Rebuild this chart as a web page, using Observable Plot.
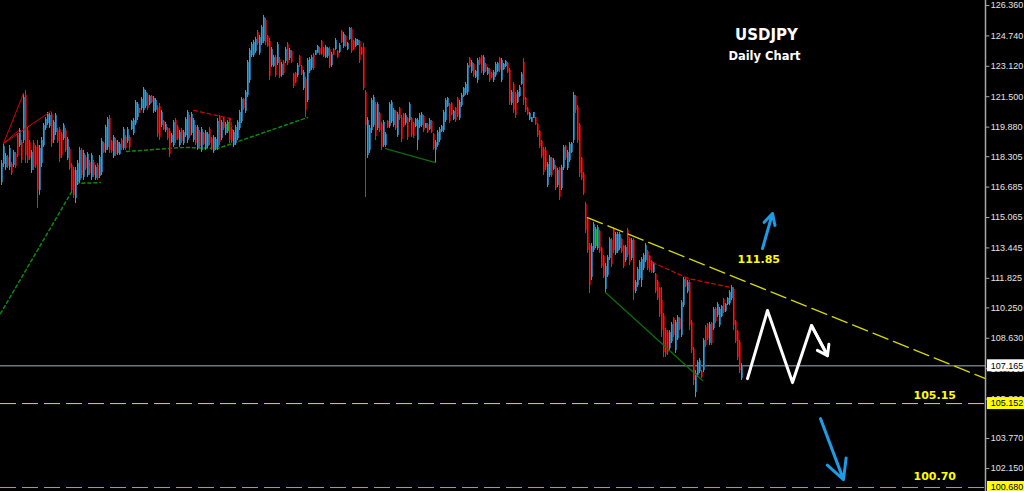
<!DOCTYPE html>
<html><head><meta charset="utf-8">
<script src="https://cdn.jsdelivr.net/npm/d3@7"></script>
<script src="https://cdn.jsdelivr.net/npm/@observablehq/plot@0.6"></script>
<style>html,body{margin:0;padding:0;background:#000;overflow:hidden}</style>
</head><body><div id="chart"></div>
<script>
// Daily USDJPY candles [open, high, low, close]
const barsA = [
[116.93,118.10,116.77,117.94],[117.89,119.01,117.73,118.85],[117.73,118.48,117.57,118.32],[118.26,118.37,117.68,117.78],
[117.73,118.90,117.57,118.74],[117.89,117.99,117.30,117.41],[117.84,118.64,117.73,118.53],[118.42,118.53,117.68,117.78],
[119.43,119.54,118.26,118.37],[118.90,119.81,118.80,119.70],[119.06,119.17,117.94,118.10],[119.17,121.67,119.01,121.46],
[121.57,121.83,117.94,118.37],[119.70,119.86,117.94,118.10],[119.06,119.17,118.10,118.21],[117.57,118.64,117.41,118.53],
[119.01,119.17,117.57,117.73],[118.80,118.90,117.68,117.84],[118.90,119.17,115.54,116.50],[116.50,118.90,116.24,118.74],
[117.94,119.33,117.73,119.17],[118.90,120.07,118.80,119.97],[119.81,120.39,119.70,120.29],[120.07,120.66,119.97,120.55],
[119.91,120.61,119.81,120.50],[120.55,120.66,118.80,119.01],[119.17,120.23,119.01,120.13],[119.59,120.61,119.43,120.50],
[119.70,119.81,119.01,119.12],[119.75,119.86,117.99,118.21],[119.49,119.59,118.21,118.37],[119.27,120.07,119.17,119.97],
[119.70,119.81,118.53,118.64],[118.21,119.33,118.10,119.22],[118.69,118.80,117.57,117.68],[117.84,117.94,116.34,116.50],
[117.57,117.73,116.08,116.24],[116.08,117.73,115.81,117.57],[116.93,118.10,116.77,117.94],[117.04,118.80,116.88,118.64],
[118.64,118.74,117.14,117.30],[117.20,118.64,117.04,118.48],[118.26,118.37,117.57,117.68],[117.30,118.53,117.20,118.42],
[117.99,118.10,117.30,117.41],[117.20,118.48,117.04,118.37],[117.99,118.10,117.20,117.30],[117.14,117.84,117.04,117.73],
[117.84,117.94,117.04,117.14],[117.25,118.37,117.14,118.26],[117.46,119.27,117.30,119.12],[119.01,119.06,118.48,118.53],
[118.64,119.97,118.48,119.86],[118.80,120.39,118.64,120.29],[120.34,120.50,118.48,118.64],[119.12,119.17,118.48,118.58],
[118.32,119.43,118.21,119.33],[119.17,119.27,118.32,118.42],[118.48,119.17,118.37,119.06],[118.42,119.06,118.37,118.96],
[119.17,119.27,118.64,118.74],[118.74,119.86,118.64,119.75],[119.33,119.43,118.64,118.74],[119.12,119.86,119.01,119.75],
[119.33,119.43,118.64,118.80],[119.75,120.23,119.70,120.18],[119.54,120.34,119.43,120.23],[120.07,121.30,119.97,121.19],
[120.39,121.19,120.23,121.09],[120.87,120.87,120.61,120.61],[120.87,121.46,120.77,121.35],[120.77,121.99,120.61,121.89],
[120.98,121.83,120.87,121.73],[121.57,121.67,120.77,120.87],[121.09,121.57,121.03,121.51],[121.51,121.57,121.14,121.19],
[120.71,121.51,120.61,121.41],[120.77,121.41,120.66,121.30],[120.93,121.03,119.33,119.49],[120.98,121.14,119.17,119.33],
[119.97,120.77,119.86,120.66],[120.18,120.23,119.70,119.75],[119.70,120.13,119.59,120.02],[119.81,119.86,119.17,119.27],
[119.65,119.81,118.26,118.42],[119.06,119.54,119.01,119.43],[118.90,120.23,118.80,120.13],[120.23,120.34,119.01,119.17],
[119.86,119.97,119.17,119.27],[118.90,119.70,118.80,119.59],[119.70,119.81,119.01,119.12],[119.01,119.70,118.90,119.59],
[119.43,120.39,119.33,120.29]
];
const barsB = [
[119.17,120.77,119.01,120.66],[120.39,120.50,119.27,119.38],[119.54,120.66,119.43,120.55],[119.17,120.34,119.06,120.23],
[119.86,119.97,118.90,119.01],[118.74,119.97,118.64,119.86],[119.59,119.70,118.74,118.85],[118.64,119.86,118.53,119.75],
[119.54,119.59,118.90,118.96],[118.74,119.70,118.64,119.59],[118.85,119.59,118.74,119.49],[119.75,119.86,118.90,119.01],
[119.27,119.33,118.64,118.69],[118.58,119.43,118.48,119.33],[118.74,119.33,118.64,119.22],[118.80,120.34,118.64,120.18],
[120.39,120.50,118.90,119.06],[119.27,120.23,119.17,120.13],[120.34,120.39,119.70,119.81],[119.54,120.13,119.43,120.02],
[119.65,120.23,119.54,120.13],[120.23,120.34,119.01,119.17],[119.75,119.86,119.01,119.12],[118.90,119.70,118.80,119.59],
[119.01,119.97,118.90,119.86],[119.27,120.23,119.17,120.13],[119.81,120.77,119.70,120.66],[120.18,121.46,120.07,121.35],
[121.35,121.41,120.77,120.87],[120.71,121.83,120.61,121.73],[121.57,123.43,121.46,123.33],[122.37,124.07,122.21,123.96],
[123.70,124.39,123.59,124.28],[123.70,124.50,123.59,124.39],[123.91,124.66,123.81,124.55],[124.92,125.03,124.23,124.34],
[123.81,124.76,123.70,124.66],[124.34,125.30,124.23,125.19],[124.44,125.83,124.34,125.72],[125.56,125.67,124.23,124.39],
[124.71,124.76,124.13,124.18],[124.44,124.60,122.37,122.58],[123.16,124.13,123.06,124.02],[123.11,123.70,123.06,123.59],
[123.59,123.70,122.53,122.63],[123.27,124.39,123.16,124.28],[123.49,123.59,122.47,122.58],[122.63,123.33,122.53,123.22],
[123.33,123.43,122.63,122.74],[123.38,124.13,123.27,124.02],[124.28,124.39,123.16,123.27],[123.54,124.07,123.43,123.96],
[123.91,123.96,123.27,123.33],[122.69,122.74,121.94,122.05],[122.74,122.79,122.21,122.26],[122.63,123.27,122.53,123.16],
[123.65,123.70,123.06,123.11],[123.11,123.16,122.63,122.69],[121.94,122.90,121.83,122.79],[122.42,122.53,120.39,120.77],
[121.30,123.54,121.19,123.43],[122.85,123.59,122.74,123.49],[123.01,123.70,122.90,123.59],[123.70,123.81,122.90,123.01],
[123.70,123.96,123.70,123.96],[123.81,124.23,123.81,124.18],[124.07,124.13,123.70,123.75],[124.44,124.50,123.70,123.75],
[124.07,124.13,123.59,123.65],[123.59,124.23,123.54,124.13],[123.65,124.13,123.54,124.07],[124.02,124.13,123.01,123.11],
[123.16,123.86,123.06,123.75],[124.02,124.07,123.70,123.70],[124.02,124.60,123.96,124.50],[123.91,123.96,123.54,123.59],
[123.86,124.34,123.81,124.23],[124.98,125.03,124.34,124.39],[124.18,124.92,124.07,124.82],[124.71,124.76,124.13,124.18],
[124.02,124.39,123.96,124.34],[124.55,125.19,124.50,125.14],[125.08,125.19,123.81,123.91],[124.44,124.50,123.96,124.02],
[124.18,124.60,124.13,124.55],[124.23,124.55,124.23,124.50],[124.44,124.50,123.27,123.43],[124.07,124.13,123.70,123.75],
[124.13,124.34,121.83,121.94],[121.73,121.83,116.13,119.97],[118.37,120.39,118.21,120.23],[118.64,119.97,118.48,119.81],
[119.70,121.41,119.54,121.30]
];
const barsC = [
[119.97,121.57,119.86,121.46],[121.09,121.19,119.17,119.38],[119.81,121.19,119.70,121.09],[120.61,120.66,119.59,119.70],
[120.02,120.13,118.64,118.80],[118.90,120.23,118.80,120.13],[118.90,119.59,118.80,119.49],[120.18,120.23,119.81,119.86],
[119.91,121.19,119.81,121.09],[120.18,121.30,120.07,121.19],[119.97,120.87,119.86,120.77],[120.71,120.77,119.70,119.81],
[119.43,120.66,119.33,120.55],[120.87,120.93,120.23,120.34],[120.39,120.50,119.06,119.22],[120.55,120.61,119.86,119.91],
[120.07,120.61,119.97,120.50],[120.34,120.39,119.17,119.33],[120.23,121.19,120.13,121.09],[120.34,120.39,119.33,119.43],
[120.07,120.13,119.27,119.38],[119.91,120.34,119.86,120.29],[119.17,120.34,118.64,120.23],[119.91,120.61,119.81,120.50],
[119.97,120.66,119.86,120.55],[120.45,120.50,119.59,119.70],[119.81,120.07,119.81,120.07],[120.02,120.07,119.54,119.59],
[119.75,120.34,119.70,120.23],[120.18,120.23,119.54,119.59],[119.49,119.54,118.64,118.74],[118.64,119.17,117.99,119.06],
[118.90,119.70,118.80,119.59],[119.17,119.86,119.06,119.75],[119.65,119.97,119.59,119.91],[119.70,120.77,119.59,120.66],
[120.23,121.41,120.13,121.30],[120.98,121.46,120.93,121.41],[121.09,121.14,120.07,120.18],[121.14,121.19,120.50,120.55],
[120.29,120.77,120.23,120.71],[120.87,120.93,120.13,120.23],[121.41,121.46,120.39,120.50],[120.34,121.30,120.23,121.19],
[121.03,121.67,120.93,121.57],[121.51,121.99,121.46,121.94],[121.67,122.26,121.57,122.15],[121.73,123.27,121.57,123.16],
[123.54,123.59,123.01,123.06],[122.85,123.43,122.74,123.33],[123.22,123.27,122.53,122.63],[122.53,122.90,122.47,122.85],
[122.37,123.54,122.21,123.43],[123.54,123.59,123.16,123.22],[123.65,123.70,122.74,122.85],[122.74,123.70,122.63,123.59],
[123.22,123.27,122.79,122.85],[122.69,123.06,122.63,123.01],[122.95,123.01,122.26,122.37],[122.74,122.79,122.47,122.53],
[122.37,122.90,122.26,122.79],[122.63,123.33,122.53,123.22],[122.85,123.33,122.79,123.27],[123.54,123.59,122.79,122.90],
[122.37,123.54,122.26,123.43],[122.95,123.27,122.90,123.22],[123.11,123.43,123.06,123.38],[123.27,123.33,122.74,122.79],
[122.90,123.01,121.03,121.19],[121.14,121.83,121.03,121.73],[122.15,122.26,120.61,120.77],[121.62,121.73,120.34,120.50],
[121.19,121.83,121.14,121.73],[121.51,122.10,121.46,121.99],[122.15,122.79,122.10,122.69],[123.33,123.54,121.03,121.30],
[121.41,121.46,120.66,120.77],[120.87,120.93,120.50,120.55],[120.29,120.66,120.23,120.61],[120.13,120.39,120.13,120.39],
[120.34,120.66,120.34,120.66],[120.39,120.39,119.97,120.02],[120.02,120.07,119.33,119.43],[119.65,119.70,118.74,118.85],
[119.12,119.17,118.21,118.32],[118.69,118.80,117.30,117.46],[118.64,118.80,117.57,117.73],[116.77,117.99,116.66,117.89],
[117.30,118.37,117.20,118.26],[118.21,118.26,117.20,117.30],[117.62,118.21,117.57,118.10],[117.78,117.84,116.50,116.61],
[116.77,117.68,116.66,117.57],[117.68,117.73,115.97,116.13],[116.61,117.84,116.50,117.73],[117.68,118.90,117.57,118.80],
[118.85,118.90,118.10,118.21],[117.68,118.64,117.57,118.53],[118.10,119.06,117.99,118.96],[118.53,119.06,118.48,119.01]
];
const barsD = [
[119.17,121.73,119.01,121.57],[121.51,121.57,120.61,120.77],[120.93,121.03,119.01,119.17],[119.97,120.07,117.20,117.41],
[118.21,118.26,117.04,117.14],[117.36,117.46,116.24,116.34],[115.76,115.86,114.21,114.37],[114.96,115.06,113.15,113.31],
[113.57,113.68,111.01,111.44],[111.87,113.68,111.71,113.52],[113.31,114.80,113.20,114.69],[113.52,114.53,113.41,114.43],
[113.41,114.64,113.31,114.53],[114.32,114.37,113.15,113.25],[113.41,113.47,112.35,112.45],[112.99,113.04,111.81,111.92],
[111.23,112.61,111.07,112.45],[111.97,113.04,111.87,112.93],[112.88,113.99,112.77,113.89],[113.84,113.94,112.40,112.56],
[114.43,114.53,113.15,113.31],[113.15,114.27,113.04,114.16],[113.25,114.27,113.15,114.16],[113.41,114.27,113.31,114.16],
[113.89,113.94,113.15,113.25],[113.52,113.57,112.35,112.45],[112.77,113.57,112.67,113.47],[114.37,114.48,112.93,113.04],
[113.94,113.99,112.51,112.67],[112.88,113.94,112.77,113.84],[113.84,113.94,110.64,111.17],[111.12,111.71,111.01,111.60],
[111.44,112.40,111.33,112.29],[111.81,112.77,111.71,112.67],[111.71,112.93,111.33,112.83],[112.35,113.15,112.24,113.04],
[112.77,113.68,112.67,113.57],[113.25,113.31,112.24,112.35],[112.99,113.04,112.13,112.24],[112.72,112.77,112.08,112.13],
[112.13,112.67,112.08,112.61],[112.03,112.08,111.01,111.12],[111.65,111.71,110.64,110.75],[111.28,111.33,109.74,109.89],
[110.64,111.33,108.67,109.04],[109.84,109.95,107.60,107.87],[109.04,109.15,107.60,107.76],[108.93,109.04,107.71,107.87],
[108.08,109.04,107.98,108.93],[108.45,109.47,108.35,109.36],[109.68,109.73,108.67,108.78],[107.98,109.58,107.82,109.47],
[108.61,109.84,108.51,109.73],[109.68,109.73,109.04,109.10],[108.78,110.64,108.67,110.53],[110.37,111.87,110.27,111.76],
[111.81,111.87,111.33,111.39],[111.12,111.71,111.01,111.60],[111.60,111.71,109.04,109.31],[109.47,109.58,107.82,107.98],
[108.03,108.14,106.11,106.38],[105.74,106.91,105.47,106.75],[106.64,107.44,106.54,107.34],[106.85,107.55,106.75,107.44],
[106.85,106.91,106.48,106.54],[106.91,108.61,106.80,108.51],[109.20,109.31,108.14,108.24],[109.36,109.42,108.51,108.61],
[108.35,109.47,108.24,109.36],[109.42,109.47,108.24,108.35],[109.15,110.27,109.04,110.16],[110.21,110.27,109.42,109.52],
[109.84,110.53,109.73,110.43],[109.31,110.27,109.20,110.16],[109.79,110.37,109.73,110.32],[110.69,110.75,109.95,110.00],
[110.05,110.48,110.00,110.43],[110.43,110.80,110.37,110.75],[110.48,111.17,110.37,111.07],[110.75,111.44,110.64,111.33],
[111.23,111.33,109.04,109.31],[109.52,109.58,108.35,108.45],[108.99,109.04,107.44,107.60],[108.40,108.51,106.75,106.91],
[106.48,107.28,106.38,107.165]
];
const greenBars = [113, 297];

// Price axis
const tickValues = [126.36,124.74,123.12,121.50,119.88,118.305,116.685,115.065,113.445,111.825,110.25,108.63,107.01,105.39,103.29,101.69];
const tickLabels = ["126.360","124.740","123.120","121.500","119.880","118.305","116.685","115.065","113.445","111.825","110.250","108.630","107.010","105.390","103.770","102.150"];
const priceTags = [
  {v:107.165, label:"107.165", fill:"#ffffff"},
  {v:105.152, label:"105.152", fill:"#ffff00"},
  {v:100.680, label:"100.680", fill:"#ffff00"}
];

// Drawn objects (bar index, price)
const redFan = [
  [{i:1,p:119.01},{i:11,p:121.67}],
  [{i:1,p:119.01},{i:24.5,p:120.71}],
  [{i:1,p:119.01},{i:8.5,p:119.70}]
];
const greenDotLeft = [{i:-0.5,p:109.95},{i:37.5,p:116.88},{i:49.5,p:116.93}];
const greenDotMid = [{i:62.5,p:118.58},{i:91,p:118.80},{i:108,p:118.74},{i:153,p:120.39}];
const redDashTop = [{i:96,p:120.77},{i:114.5,p:120.34},{i:115.5,p:119.70}];
const greenLineMid = [{i:192,p:118.74},{i:217,p:117.99}];
const yellowTrend = [{i:293,p:115.06},{i:492,p:106.48}];
const redDashLow = [{i:325.5,p:112.67},{i:343.5,p:111.81},{i:365,p:111.33}];
const greenLineLow = [{i:302,p:111.07},{i:350.5,p:106.38}];
const zigzag = [{i:373,p:106.48},{i:383,p:110.11},{i:395.5,p:106.27},{i:405,p:109.31},{i:413,p:107.71}];
const blueArrows = [
  {x1:380.5,y1:113.41,x2:385.5,y2:115.28},
  {x1:409.5,y1:104.35,x2:421,y2:101.10}
];
const levelLabels = [
  {i:368, p:112.83, t:"111.85"},
  {i:456, p:105.58, t:"105.15"},
  {i:456, p:101.26, t:"100.70"}
];
const titleLines = [
  {i:382.5, p:124.76, t:"USDJPY", size:15},
  {i:381.5, p:123.65, t:"Daily Chart", size:11.5}
];

const bars = [...barsA, ...barsB, ...barsC, ...barsD].map(([o,h,l,c], i) => ({i, o, h, l, c, up: c >= o, green: greenBars.includes(i)}));
const wickColor = d => d.green ? "#10d010" : d.up ? "#1ea6ea" : "#ff1414";
const bodyColor = d => d.green ? "#00a800" : d.up ? "#1b6e9c" : "#a00000";

const lineOf = (pts, opts) => Plot.line(pts, {x:"i", y:"p", ...opts});
const axisFont = "'Liberation Sans', Arial, sans-serif";

const chart = Plot.plot({
  width: 1024, height: 491, margin: 0,
  x: {domain: [-0.5, 492], range: [0, 985], axis: null},
  y: {domain: [100.468, 126.626], range: [491, 0], axis: null},
  style: {background: "#000", overflow: "visible"},
  marks: [
    lineOf(greenDotLeft, {stroke:"#0a8a0a", strokeWidth:1.5, strokeDasharray:"3,3"}),
    lineOf(greenDotMid, {stroke:"#0a8a0a", strokeWidth:1.5, strokeDasharray:"3,3"}),
    Plot.ruleY([107.165], {x1:-0.5, x2:492, stroke:"#6b7680", strokeWidth:1.5}),
    Plot.ruleX(bars, {x:"i", y1:"l", y2:"h", stroke: wickColor, strokeWidth:1}),
    Plot.ruleX(bars, {x:"i", y1:"o", y2:"c", stroke: bodyColor, strokeWidth:1, dx:1}),
    ...redFan.map(seg => lineOf(seg, {stroke:"#e00000", strokeWidth:1})),
    lineOf(redDashTop, {stroke:"#e00000", strokeWidth:1.2, strokeDasharray:"4,3"}),
    lineOf(greenLineMid, {stroke:"#0b6e0b", strokeWidth:1.3}),
    lineOf(greenLineLow, {stroke:"#0b6e0b", strokeWidth:1.3}),
    lineOf(redDashLow, {stroke:"#e00000", strokeWidth:1.2, strokeDasharray:"4,3"}),
    lineOf(yellowTrend, {stroke:"#d8d800", strokeWidth:1.3, strokeDasharray:"16,6"}),
    Plot.ruleY([105.152], {x1:-0.5, x2:492, stroke:"#e0e000", strokeWidth:1, strokeDasharray:"16,6"}),
    Plot.ruleY([100.68], {x1:-0.5, x2:492, stroke:"#b0b000", strokeWidth:1, strokeDasharray:"16,6"}),
    lineOf(zigzag, {stroke:"#ffffff", strokeWidth:3}),
    Plot.arrow([zigzag.slice(-2)], {x1: d=>d[0].i, y1: d=>d[0].p, x2: d=>d[1].i, y2: d=>d[1].p, stroke:"#ffffff", strokeWidth:3, headLength:11, headAngle:70}),
    Plot.arrow(blueArrows, {x1:"x1", y1:"y1", x2:"x2", y2:"y2", stroke:"#1e9be6", strokeWidth:3, headLength:12, headAngle:55}),
    Plot.text(levelLabels, {x:"i", y:"p", text:"t", textAnchor:"start", fill:"#ffff00", fontSize:11, fontWeight:"bold", fontFamily:"DejaVu Sans, sans-serif"}),
    Plot.text(titleLines, {x:"i", y:"p", text:"t", fill:"#ffffff", fontSize: d=>d.size, fontWeight:"bold", fontFamily:"DejaVu Sans, sans-serif"}),
    Plot.ruleX([492], {stroke:"#a8a8a8", strokeWidth:1.5}),
    Plot.ruleY(tickValues, {x1:492, x2:494.2, stroke:"#a8a8a8"}),
    Plot.text(tickValues, {x:494.6, y: d=>d, text: (d, i) => tickLabels[i], textAnchor:"start", fill:"#e4e4e4", fontSize:9, fontFamily:axisFont}),
    Plot.rect(priceTags, {x1:493, x2:512, y1: d=>d.v-0.32, y2: d=>d.v+0.32, fill:"fill"}),
    Plot.text(priceTags, {x:494.6, y:"v", text:"label", textAnchor:"start", fill:"#000", fontSize:9, fontFamily:axisFont})
  ]
});
document.getElementById("chart").appendChild(chart);
</script>
</body></html>
